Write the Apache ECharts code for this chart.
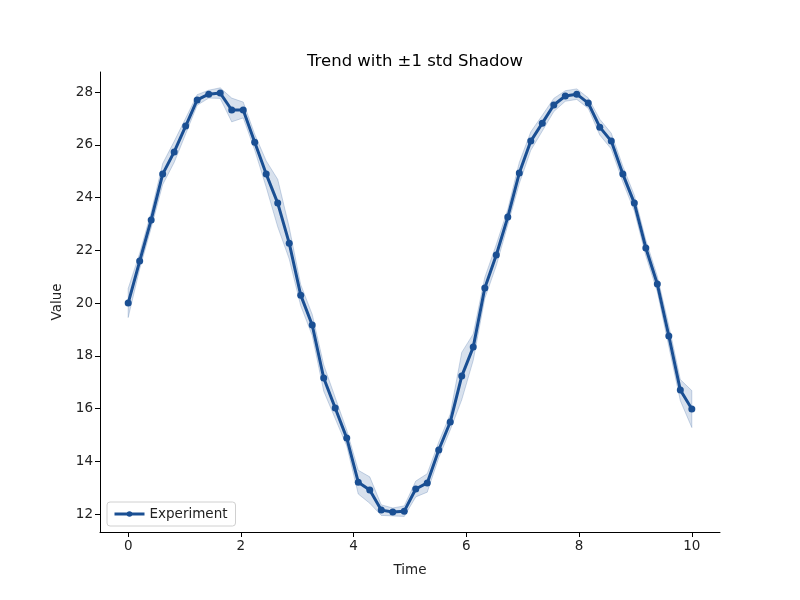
<!DOCTYPE html>
<html>
<head>
<meta charset="utf-8">
<script src="https://cdn.jsdelivr.net/npm/echarts@6/dist/echarts.min.js"></script>
<style>
  html, body { margin: 0; padding: 0; background: #fff; }
  #chart { width: 800px; height: 600px; }
</style>
</head>
<body>
<div id="chart"></div>
<script>
// time points (50 samples across 0..10)
const timeValues = [
  0.000, 0.204, 0.408, 0.612, 0.816, 1.020, 1.224, 1.429, 1.633, 1.837,
  2.041, 2.245, 2.449, 2.653, 2.857, 3.061, 3.265, 3.469, 3.673, 3.878,
  4.082, 4.286, 4.490, 4.694, 4.898, 5.102, 5.306, 5.510, 5.714, 5.918,
  6.122, 6.327, 6.531, 6.735, 6.939, 7.143, 7.347, 7.551, 7.755, 7.959,
  8.163, 8.367, 8.571, 8.776, 8.980, 9.184, 9.388, 9.592, 9.796, 10.000
];
// mean of the experiment
const meanValues = [
  20.00, 21.59, 23.15, 24.89, 25.73, 26.71, 27.70, 27.92, 27.96, 27.32,
  27.32, 26.10, 24.89, 23.79, 22.27, 20.30, 19.17, 17.16, 16.02, 14.88,
  13.21, 12.91, 12.15, 12.08, 12.11, 12.95, 13.18, 14.43, 15.49, 17.23,
  18.33, 20.57, 21.82, 23.26, 24.93, 26.14, 26.82, 27.51, 27.85, 27.92,
  27.58, 26.67, 26.14, 24.89, 23.79, 22.09, 20.72, 18.75, 16.70, 15.98
];
// one standard deviation around the mean
const stdValues = [
  0.55, 0.30, 0.30, 0.40, 0.40, 0.30, 0.20, 0.15, 0.20, 0.45,
  0.30, 0.30, 0.50, 0.90, 0.60, 0.40, 0.40, 0.50, 0.40, 0.30,
  0.45, 0.50, 0.20, 0.15, 0.20, 0.30, 0.35, 0.30, 0.30, 0.90,
  0.50, 0.40, 0.40, 0.30, 0.40, 0.35, 0.30, 0.25, 0.20, 0.20,
  0.20, 0.30, 0.30, 0.30, 0.30, 0.30, 0.30, 0.40, 0.40, 0.70
];
const xTicks = [0, 2, 4, 6, 8, 10];
const yTicks = [12, 14, 16, 18, 20, 22, 24, 26, 28];

const lineColor = '#1a4f93';
const font = 'DejaVu Sans';

const chart = echarts.init(document.getElementById('chart'), null, { renderer: 'canvas' });

function axisCommon(ticks) {
  return {
    axisLine: { show: true, onZero: false, lineStyle: { color: '#000', width: 1 } },
    axisTick: { show: true, length: 5, inside: false, customValues: ticks, lineStyle: { color: '#000' } },
    axisLabel: { customValues: ticks, color: '#222', fontSize: 13.5, fontFamily: font, margin: 7 },
    splitLine: { show: false }
  };
}

const option = {
  animation: false,
  backgroundColor: '#fff',
  title: {
    text: 'Trend with ±1 std Shadow',
    left: 410,
    top: 48,
    textAlign: 'center',
    textStyle: { fontFamily: font, fontSize: 16.5, fontWeight: 'normal', color: '#000' }
  },
  grid: { left: 100, right: 80, top: 72, bottom: 68 },
  legend: {
    data: ['Experiment'],
    left: 107,
    top: 502,
    orient: 'vertical',
    padding: [5, 8, 5, 6],
    itemWidth: 30,
    itemHeight: 7,
    itemGap: 6,
    lineStyle: { width: 3 },
    borderColor: '#d0d0d0',
    borderWidth: 1,
    borderRadius: 3,
    textStyle: { fontFamily: font, fontSize: 13.5, color: '#222' }
  },
  xAxis: Object.assign({
    type: 'value',
    min: -0.5,
    max: 10.5,
    name: 'Time',
    nameLocation: 'middle',
    nameGap: 31,
    nameTextStyle: { fontFamily: font, fontSize: 13.5, color: '#222' }
  }, axisCommon(xTicks)),
  yAxis: Object.assign({
    type: 'value',
    min: 11.32,
    max: 28.76,
    name: 'Value',
    nameLocation: 'middle',
    nameGap: 35,
    nameTextStyle: { fontFamily: font, fontSize: 13.5, color: '#222' }
  }, axisCommon(yTicks)),
  series: [
    {
      name: 'band',
      type: 'custom',
      silent: true,
      clip: true,
      data: [0],
      renderItem: function (params, api) {
        const upper = [];
        const lower = [];
        for (let i = 0; i < timeValues.length; i++) {
          upper.push(api.coord([timeValues[i], meanValues[i] + stdValues[i]]));
          lower.push(api.coord([timeValues[i], meanValues[i] - stdValues[i]]));
        }
        const points = upper.concat(lower.reverse());
        return {
          type: 'polygon',
          shape: { points: points },
          style: {
            fill: 'rgba(26,79,147,0.17)',
            stroke: 'rgba(26,79,147,0.22)',
            lineWidth: 1
          }
        };
      },
      z: 1
    },
    {
      name: 'Experiment',
      type: 'line',
      data: timeValues.map((t, i) => [t, meanValues[i]]),
      symbol: 'circle',
      symbolSize: 7,
      showSymbol: true,
      lineStyle: { color: lineColor, width: 3 },
      itemStyle: { color: lineColor },
      z: 3
    }
  ]
};

chart.setOption(option);
</script>
</body>
</html>
